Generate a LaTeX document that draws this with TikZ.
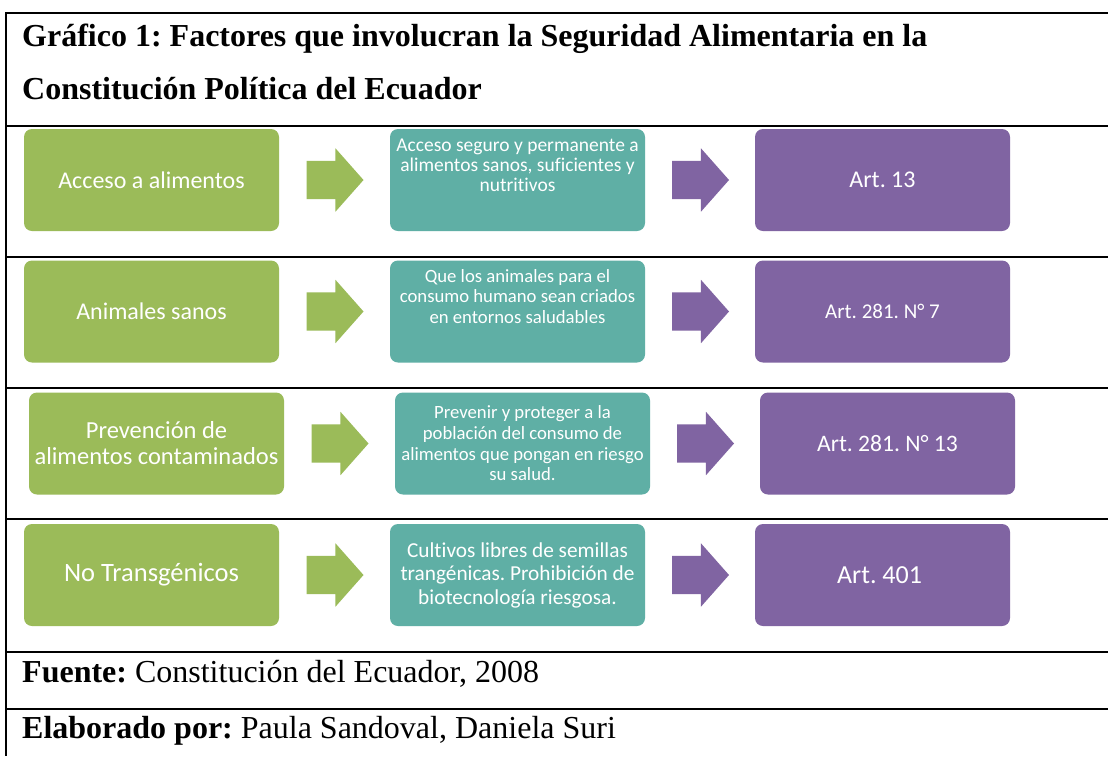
\documentclass[tikz,border=0pt]{standalone}
\usepackage{fontspec}
\setmainfont{Liberation Serif}
\newfontfamily\boxfont[Ligatures=NoCommon]{Carlito}
\usetikzlibrary{positioning,shapes.arrows}
\frenchspacing

\definecolor{leaf}{HTML}{9BBB59}
\definecolor{sea}{HTML}{5FAFA5}
\definecolor{plum}{HTML}{8064A2}
\newcommand\sz[2]{\fontsize{#1}{#2}\selectfont}

\tikzset{
  box/.style={rounded corners=8pt,minimum width=255pt,minimum height=102pt,
    inner sep=0pt,outer sep=0pt,text=white,align=center},
  boxtext/.style={inner sep=0pt,text=white,align=center},
  blockarrow/.style={single arrow,single arrow head extend=12.5pt,
    single arrow tip angle=97,minimum height=57pt,inner xsep=0pt,inner ysep=19pt,
    text height=0pt,text depth=0pt,outer sep=0pt,anchor=tail,xshift=-28pt},
  caption/.style={anchor=base west,inner sep=0pt,font=\sz{32}{38}},
  rule/.style={line width=2pt}
}

\begin{document}
\begin{tikzpicture}[x=1pt,y=-1pt]
\useasboundingbox[fill=white] (0,0) rectangle (1108,756);
% table rules
\foreach \y in {13,125.5,257,387.5,519,652,709}
  \draw[rule] (5.3,\y) -- (1108,\y);
\draw[rule] (6.3,12) -- (6.3,756);
% heading and footer
\node[caption] (head1) at (22,46) {\bfseries Gráfico 1: Factores que involucran la Seguridad Alimentaria en la};
\node[caption] (head2) at (22,99) {\bfseries Constitución Política del Ecuador};
\node[caption] (source) at (22,682) {\textbf{Fuente:} Constitución del Ecuador, 2008};
\node[caption] (author) at (22,738) {\textbf{Elaborado por:} Paula Sandoval, Daniela Suri};
% rows: factor -> content -> article
\foreach \y/\dx/\gf/\g/\tf/\t/\ts/\pf/\p[count=\i] in {
 180/0/{\sz{24}{26}}/{Acceso a alimentos}/{\sz{19.5}{20}}/{Acceso seguro y permanente a\\alimentos sanos, suficientes y\\nutritivos}/15/{\sz{24}{26}}/{Art. 13},
 311.5/0/{\sz{24}{26}}/{Animales sanos}/{\sz{18.7}{20.5}}/{Que los animales para el\\consumo humano sean criados\\en entornos saludables}/15/{\sz{21}{23}}/{Art. 281. N° 7},
 443.5/5/{\sz{24.5}{26}}/{Prevención de\\alimentos contaminados}/{\sz{18.7}{20.7}}/{Prevenir y proteger a la\\población del consumo de\\alimentos que pongan en riesgo\\su salud.}/0/{\sz{23.6}{26}}/{Art. 281. N° 13},
 575/0/{\sz{26.5}{28}}/{No Transgénicos}/{\sz{21.3}{23.5}}/{Cultivos libres de semillas\\trangénicas. Prohibición de\\biotecnología riesgosa.}/0/{\sz{26}{28}}/{Art. 401}
}{
\node[box,fill=leaf,font=\boxfont\gf] (g\i) at (151.5+\dx,\y) {\g};
\node[box,fill=sea,right=111pt of g\i] (t\i) {};
\node[box,fill=plum,right=110pt of t\i,font=\boxfont\pf] (p\i) {\p};
\node[boxtext,yshift=\ts pt,font=\boxfont\tf] (d\i) at (t\i.center) {\t};
\path (g\i) -- node[blockarrow,fill=leaf] (ga\i) {} (t\i);
\path (t\i) -- node[blockarrow,fill=plum] (pa\i) {} (p\i);
}
\end{tikzpicture}
\end{document}
